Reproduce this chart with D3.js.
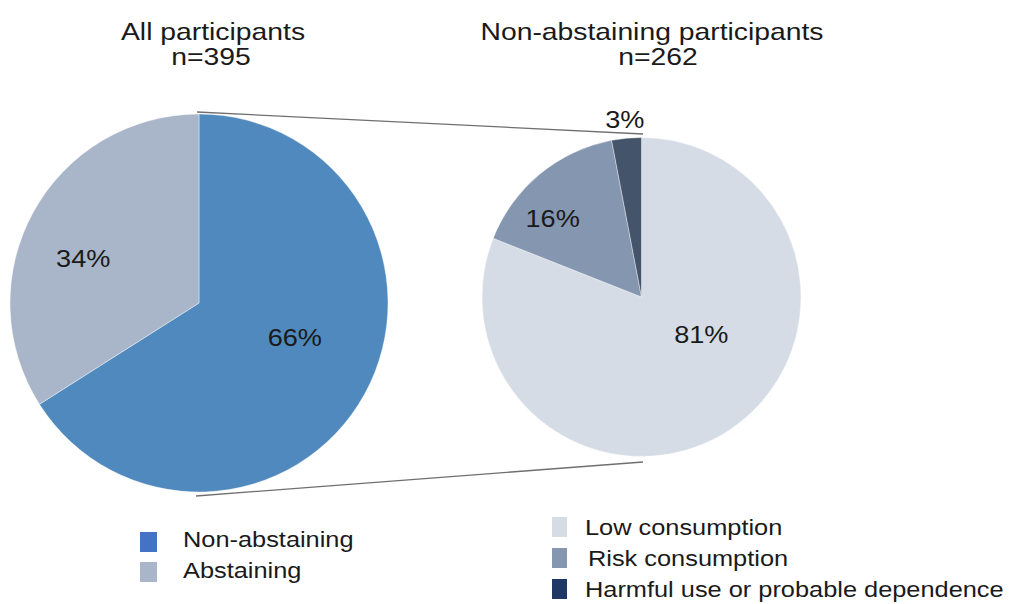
<!DOCTYPE html>
<html>
<head>
<meta charset="utf-8">
<script src="https://cdn.jsdelivr.net/npm/d3@7"></script>
<style>
  html, body { margin: 0; padding: 0; background: #ffffff; }
  svg { display: block; }
  text { font-family: "Liberation Sans", Arial, sans-serif; fill: #1a1a1a; }
</style>
</head>
<body>
<svg id="chart" width="1011" height="604"></svg>
<script>
// ---------------- data ----------------
const allTitle = ["All participants", "n=395"];
const allCategories = ["Non-abstaining", "Abstaining"];
const allValues = [66, 34];

const nonAbsTitle = ["Non-abstaining participants", "n=262"];
const nonAbsCategories = ["Low consumption", "Risk consumption", "Harmful use or probable dependence"];
const nonAbsValues = [81, 16, 3];

// ---------------- styles / layout ----------------
const allPieColors = ["#4f89bd", "#a9b6ca"];
const allLegendColors = ["#4472c4", "#a9b6ca"];
const nonAbsPieColors = ["#d6dce6", "#8496b0", "#44546a"];
const nonAbsLegendColors = ["#d6dce6", "#8496b0", "#203864"];

const SX = 1.18; // horizontal text stretch seen in the reference

const svg = d3.select("#chart");

function stretchedText(g, x, y, str, size, anchor) {
  return g.append("text")
    .attr("transform", `translate(${x},${y}) scale(${SX},1)`)
    .attr("text-anchor", anchor || "middle")
    .style("font-size", size + "px")
    .text(str);
}

const pieGen = d3.pie().sort(null).value(d => d).startAngle(0).endAngle(2 * Math.PI);

function drawPie(cfg) {
  const g = svg.append("g").attr("transform", `translate(${cfg.cx},${cfg.cy})`);
  const arcs = pieGen(cfg.values);
  const arc = d3.arc().innerRadius(0).outerRadius(cfg.r);
  const outerArc = d3.arc().innerRadius(cfg.r + 18).outerRadius(cfg.r + 18);

  g.selectAll("path.slice")
    .data(arcs)
    .join("path")
    .attr("class", "slice")
    .attr("d", arc)
    .attr("fill", (d, i) => cfg.colors[i])
    .attr("stroke", "#ffffff")
    .attr("stroke-width", 0.4);

  arcs.forEach((d, i) => {
    const share = d.data / d3.sum(cfg.values);
    const c = share < 0.05 ? outerArc.centroid(d) : arc.centroid(d);
    const n = cfg.nudge[i] || [0, 0];
    stretchedText(g, c[0] + n[0], c[1] + n[1] + 8, d.data + "%", 23, "middle");
  });
}

// connector lines (drawn under pies)
const conn = svg.append("g").attr("stroke", "#6f6f6f").attr("stroke-width", 1.3).attr("fill", "none");
conn.append("line").attr("x1", 197).attr("y1", 112).attr("x2", 643).attr("y2", 134);
conn.append("line").attr("x1", 196).attr("y1", 496).attr("x2", 643).attr("y2", 462);

drawPie({
  cx: 199, cy: 303, r: 189,
  values: allValues, colors: allPieColors,
  nudge: [[13, -11], [-33, 2]]
});

drawPie({
  cx: 641.5, cy: 297, r: 159.5,
  values: nonAbsValues, colors: nonAbsPieColors,
  nudge: [[15, -28], [-38, -17], [0, 0]]
});

// titles
const titles = svg.append("g");
stretchedText(titles, 213, 40, allTitle[0], 24);
stretchedText(titles, 211, 65, allTitle[1], 24);
stretchedText(titles, 652, 40, nonAbsTitle[0], 24);
stretchedText(titles, 658, 65, nonAbsTitle[1], 24);

// legends
const leg1 = svg.append("g");
allCategories.forEach((name, i) => {
  const y0 = 532 + i * 30;
  leg1.append("rect").attr("x", 140).attr("y", y0).attr("width", 17).attr("height", 20)
    .attr("fill", allLegendColors[i]);
  stretchedText(leg1, 183, y0 + 15 + (i === 0 ? 0 : 1), name, 21.5, "start");
});

const leg2 = svg.append("g");
nonAbsCategories.forEach((name, i) => {
  const y0 = 517 + i * 31;
  leg2.append("rect").attr("x", 552).attr("y", y0).attr("width", 15).attr("height", 20)
    .attr("fill", nonAbsLegendColors[i]);
  stretchedText(leg2, i === 1 ? 588 : 585, y0 + 18, name, 21.5, "start");
});
</script>
</body>
</html>
